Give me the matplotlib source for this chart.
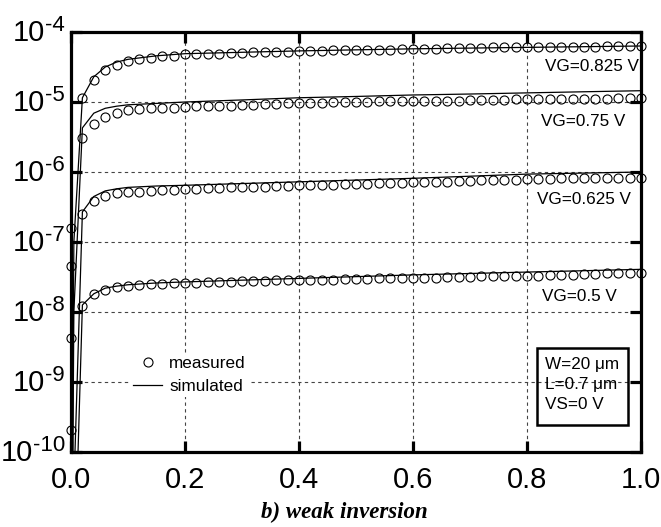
import numpy as np
import matplotlib
matplotlib.use("Agg")
import matplotlib.pyplot as plt
from matplotlib.lines import Line2D
from matplotlib.patches import Rectangle
from matplotlib.ticker import FixedLocator, FuncFormatter, NullLocator, NullFormatter

plt.rcParams['font.family'] = ['Liberation Sans', 'DejaVu Sans']

# ---------------- data ----------------
vd_meas = np.round(np.arange(0.0, 1.0001, 0.02), 2)

id_meas_0825 = [1.58e-7, 1.15e-5, 2.09e-5, 2.88e-5, 3.39e-5, 3.80e-5, 4.07e-5, 4.27e-5, 4.47e-5, 4.57e-5,
                4.79e-5, 4.79e-5, 4.90e-5, 4.90e-5, 5.01e-5, 5.01e-5, 5.13e-5, 5.13e-5, 5.25e-5, 5.25e-5,
                5.37e-5, 5.37e-5, 5.37e-5, 5.50e-5, 5.50e-5, 5.50e-5, 5.62e-5, 5.62e-5, 5.62e-5, 5.75e-5,
                5.75e-5, 5.75e-5, 5.75e-5, 5.89e-5, 5.89e-5, 5.89e-5, 5.89e-5, 6.03e-5, 6.03e-5, 6.03e-5,
                6.03e-5, 6.03e-5, 6.17e-5, 6.17e-5, 6.17e-5, 6.17e-5, 6.17e-5, 6.31e-5, 6.31e-5, 6.31e-5,
                6.31e-5]
id_meas_075 = [4.57e-8, 3.02e-6, 4.90e-6, 6.17e-6, 6.92e-6, 7.59e-6, 7.94e-6, 8.13e-6, 8.32e-6, 8.32e-6,
               8.51e-6, 8.71e-6, 8.71e-6, 8.91e-6, 8.91e-6, 9.12e-6, 9.12e-6, 9.33e-6, 9.33e-6, 9.55e-6,
               9.77e-6, 9.77e-6, 9.77e-6, 1.00e-5, 1.00e-5, 1.00e-5, 1.00e-5, 1.02e-5, 1.02e-5, 1.02e-5,
               1.02e-5, 1.05e-5, 1.05e-5, 1.05e-5, 1.05e-5, 1.07e-5, 1.07e-5, 1.07e-5, 1.07e-5, 1.10e-5,
               1.10e-5, 1.10e-5, 1.10e-5, 1.10e-5, 1.12e-5, 1.12e-5, 1.12e-5, 1.12e-5, 1.15e-5, 1.15e-5,
               1.15e-5]
id_meas_0625 = [4.27e-9, 2.51e-7, 3.89e-7, 4.57e-7, 5.01e-7, 5.13e-7, 5.25e-7, 5.37e-7, 5.50e-7, 5.62e-7,
                5.75e-7, 5.75e-7, 5.89e-7, 5.89e-7, 6.03e-7, 6.03e-7, 6.17e-7, 6.17e-7, 6.31e-7, 6.31e-7,
                6.46e-7, 6.46e-7, 6.61e-7, 6.61e-7, 6.76e-7, 6.76e-7, 6.76e-7, 6.92e-7, 6.92e-7, 6.92e-7,
                7.08e-7, 7.08e-7, 7.24e-7, 7.24e-7, 7.41e-7, 7.41e-7, 7.59e-7, 7.59e-7, 7.76e-7, 7.76e-7,
                7.94e-7, 7.94e-7, 7.94e-7, 8.13e-7, 8.13e-7, 8.13e-7, 8.13e-7, 8.32e-7, 8.32e-7, 8.32e-7,
                8.32e-7]
id_meas_05 = [2.04e-10, 1.20e-8, 1.78e-8, 2.04e-8, 2.24e-8, 2.34e-8, 2.45e-8, 2.51e-8, 2.51e-8, 2.57e-8,
              2.63e-8, 2.63e-8, 2.69e-8, 2.69e-8, 2.69e-8, 2.75e-8, 2.75e-8, 2.75e-8, 2.82e-8, 2.82e-8,
              2.82e-8, 2.88e-8, 2.88e-8, 2.88e-8, 2.95e-8, 2.95e-8, 2.95e-8, 3.02e-8, 3.02e-8, 3.02e-8,
              3.09e-8, 3.09e-8, 3.09e-8, 3.16e-8, 3.16e-8, 3.16e-8, 3.24e-8, 3.24e-8, 3.24e-8, 3.31e-8,
              3.31e-8, 3.31e-8, 3.39e-8, 3.39e-8, 3.39e-8, 3.47e-8, 3.47e-8, 3.55e-8, 3.55e-8, 3.63e-8,
              3.63e-8]

vd_sim = [0.0, 0.005, 0.02, 0.04, 0.06, 0.08, 0.1, 0.15, 0.2, 0.3, 0.4, 0.5, 0.6, 0.7, 0.8, 0.9, 1.0]
id_sim_0825 = [1e-14, 1e-7, 1.15e-5, 2.29e-5, 3.16e-5, 3.72e-5, 4.07e-5, 4.57e-5, 4.90e-5, 5.13e-5,
               5.37e-5, 5.56e-5, 5.75e-5, 5.89e-5, 6.03e-5, 6.17e-5, 6.31e-5]
id_sim_075 = [1e-14, 1e-8, 4.27e-6, 6.92e-6, 8.13e-6, 8.71e-6, 9.12e-6, 9.55e-6, 1.00e-5, 1.07e-5,
              1.15e-5, 1.20e-5, 1.26e-5, 1.30e-5, 1.35e-5, 1.40e-5, 1.45e-5]
id_sim_0625 = [1e-14, 3e-11, 2.69e-7, 4.47e-7, 5.37e-7, 5.75e-7, 6.03e-7, 6.31e-7, 6.46e-7, 6.84e-7,
               7.24e-7, 7.67e-7, 8.13e-7, 8.71e-7, 9.33e-7, 9.66e-7, 1.00e-6]
id_sim_05 = [1e-14, 1e-12, 1.26e-8, 1.82e-8, 2.19e-8, 2.34e-8, 2.45e-8, 2.60e-8, 2.69e-8, 2.85e-8,
             3.02e-8, 3.20e-8, 3.39e-8, 3.55e-8, 3.72e-8, 3.89e-8, 4.07e-8]

curve_labels = ["VG=0.825 V", "VG=0.75 V", "VG=0.625 V", "VG=0.5 V"]
x_ticks = [0.0, 0.2, 0.4, 0.6, 0.8, 1.0]
y_ticks = [1e-10, 1e-9, 1e-8, 1e-7, 1e-6, 1e-5, 1e-4]
y_exponents = ["-10", "-9", "-8", "-7", "-6", "-5", "-4"]
legend_labels = ["measured", "simulated"]
box_text = "W=20 \u03bcm\nL=0.7 \u03bcm\nVS=0 V"
caption = "b) weak inversion"

# ---------------- figure ----------------
fig = plt.figure(figsize=(6.61, 5.27), dpi=100)
ax = fig.add_axes([71/661, 1-452/527, 570/661, 420/527])
ax.set_yscale('log')

meas = [id_meas_0825, id_meas_075, id_meas_0625, id_meas_05]
sims = [id_sim_0825, id_sim_075, id_sim_0625, id_sim_05]
for s in sims:
    ax.plot(vd_sim, s, color='black', lw=0.9, zorder=3)
for m in meas:
    ax.plot(vd_meas, m, linestyle='none', marker='o', ms=6.5, mfc='none', mec='black',
            mew=0.8, zorder=4, clip_on=False)

ax.set_xlim(0, 1.0)
ax.set_ylim(1e-10, 1e-4)
ax.xaxis.set_major_locator(FixedLocator(x_ticks))
ax.xaxis.set_major_formatter(FuncFormatter(lambda v, p: f"{v:.1f}"))
ax.yaxis.set_major_locator(FixedLocator(y_ticks))
ax.yaxis.set_minor_locator(NullLocator())
ax.yaxis.set_major_formatter(NullFormatter())

for sp in ax.spines.values():
    sp.set_linewidth(2.3)
ax.tick_params(which='major', direction='in', length=8, width=2.3, top=True, right=True,
               labelsize=21)
ax.tick_params(axis='x', pad=10)
ax.grid(True, which='major', linestyle=(0, (3, 3)), color='#444444', lw=0.8)
ax.set_axisbelow(True)

# y tick labels: "10" with large raised exponent
for yt, ex in zip(y_ticks, y_exponents):
    e = ax.annotate(ex, xy=(0, yt), xycoords=('axes fraction', 'data'),
                    xytext=(-4.3, 0.5), textcoords='offset points',
                    ha='right', va='baseline', fontsize=16, annotation_clip=False)
    ax.annotate("10", xy=(0, 0), xycoords=e, xytext=(0, -3.6), textcoords='offset points',
                ha='right', va='baseline', fontsize=21, annotation_clip=False)

# curve labels
label_pos = [(0.8316, 0.919), (0.8246, 0.788), (0.8175, 0.600), (0.826, 0.371)]
for (lx, ly), t in zip(label_pos, curve_labels):
    ax.text(lx, ly, t, transform=ax.transAxes, ha='left', va='center', fontsize=12.3)

# device box
ax.add_patch(Rectangle((0.8175, 0.0643), 0.1597, 0.1833, transform=ax.transAxes,
                       fill=False, lw=1.8, edgecolor='black', zorder=5))
ax.text(0.8316, 0.1607, box_text, transform=ax.transAxes, ha='left', va='center',
        fontsize=12.3, linespacing=1.38, zorder=6)

# legend
handles = [Line2D([], [], linestyle='none', marker='o', ms=6.5, mfc='none', mec='black', mew=0.8),
           Line2D([], [], color='black', lw=0.9)]
leg = ax.legend(handles, legend_labels, loc='upper left', bbox_to_anchor=(0.1035, 0.2357),
                frameon=True, facecolor='white', edgecolor='none', framealpha=1.0,
                fontsize=12.3, handlelength=1.7, handletextpad=0.4, borderpad=0.2,
                borderaxespad=0.0, labelspacing=0.42, fancybox=False)

fig.text(344.5/661, 1-512/527, caption, ha='center', va='center',
         fontfamily='Liberation Serif', fontweight='bold', fontstyle='italic', fontsize=16.5)

fig.savefig("out.png", dpi=100)
